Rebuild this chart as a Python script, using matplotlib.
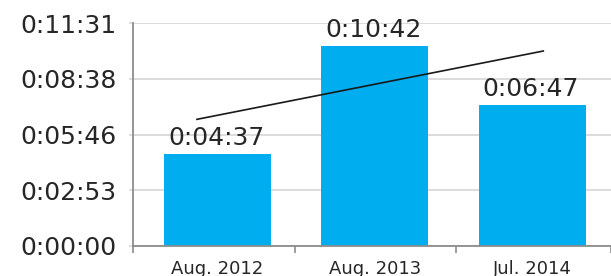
import numpy as np
import matplotlib
matplotlib.use("Agg")
import matplotlib.pyplot as plt

# data (seconds)
categories = ["Aug. 2012", "Aug. 2013", "Jul. 2014"]
bar_seconds = [285, 621, 437]
bar_labels = ["0:04:37", "0:10:42", "0:06:47"]
trend_x = [-0.13, 2.07]
trend_y = [393, 605]
y_max = 691
y_tick_labels = ["0:00:00", "0:02:53", "0:05:46", "0:08:38", "0:11:31"]

BLUE = "#00ADEF"
TEXT = "#262626"
GRID = "#D9D9D9"
AXIS = "#8C8C8C"

plt.rcParams["font.family"] = ["DejaVu Sans"]

fig = plt.figure(figsize=(6.11, 2.76), dpi=100)
ax = fig.add_axes([0.2182, 0.1087, 0.7818, 0.8069])

x = np.arange(len(categories))
ax.bar(x, bar_seconds, width=0.68, color=BLUE, zorder=2)
ax.plot(trend_x, trend_y, color="#1A1A1A", lw=1.2, zorder=3)

for xi, v, lab in zip(x, bar_seconds, bar_labels):
    ax.annotate(lab, (xi, v), xytext=(-1, 6.5), textcoords="offset points",
                ha="center", va="baseline", fontsize=18, color=TEXT)

ax.set_xlim(-0.534, 2.47)
ax.set_ylim(0, y_max)

ax.set_yticks(np.linspace(0, y_max, len(y_tick_labels)))
ax.set_yticklabels(y_tick_labels, fontsize=18, color=TEXT)
ax.tick_params(axis="y", length=3, color=GRID, width=1.2, pad=9)
ax.yaxis.grid(True, color=GRID, lw=1.3, zorder=0)
ax.set_axisbelow(True)

ax.set_xticks(x)
ax.set_xticklabels(categories, fontsize=13, color=TEXT)
ax.set_xticks([-0.534, 0.49, 1.515, 2.5], minor=True)
ax.tick_params(axis="x", which="major", length=0, pad=10)
ax.tick_params(axis="x", which="minor", length=5, color=AXIS, width=1.2)

for s in ["top", "right"]:
    ax.spines[s].set_visible(False)
for s in ["left", "bottom"]:
    ax.spines[s].set_color(AXIS)
    ax.spines[s].set_linewidth(1.3)

fig.savefig("out.png", dpi=100)
